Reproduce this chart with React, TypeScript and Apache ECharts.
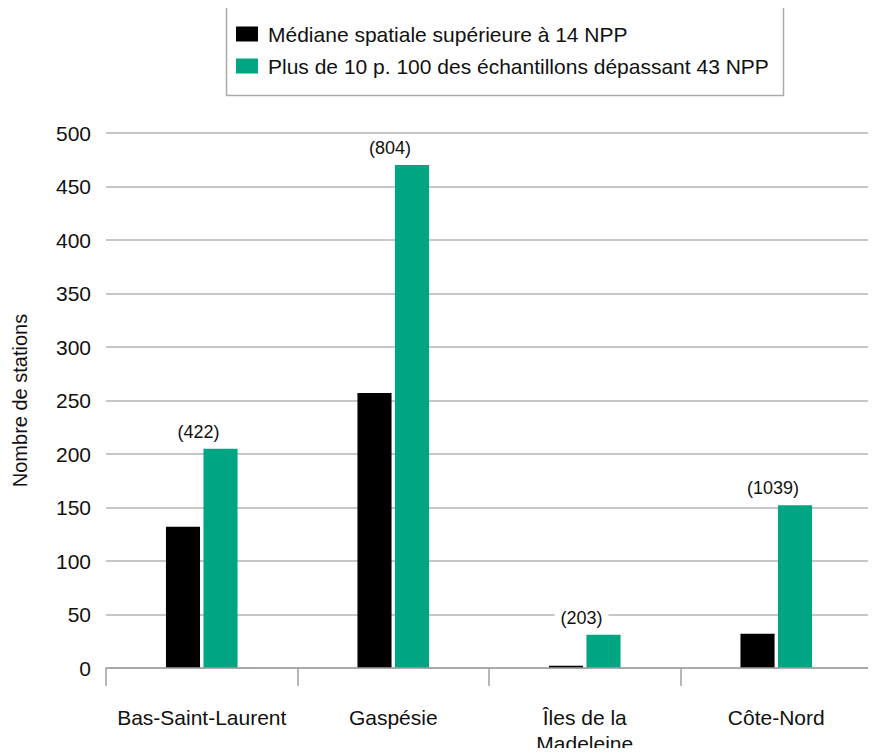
import React, { useEffect, useRef } from "react";
import * as echarts from "echarts";

const categories = ["Bas-Saint-Laurent", "Gaspésie", "Îles de la\nMadeleine", "Côte-Nord"];
const seriesNames = [
  "Médiane spatiale supérieure à 14 NPP",
  "Plus de 10 p. 100 des échantillons dépassant 43 NPP",
];
const medianeValues = [132, 257, 2, 32];
const plusValues = [205, 470, 31, 152];
const totalStations = [422, 804, 203, 1039];
const yTicks = { min: 0, max: 500, interval: 50 };

const FONT = "'Liberation Sans', Arial, sans-serif";

export default function App() {
  const ref = useRef<HTMLDivElement>(null);
  useEffect(() => {
    if (!ref.current) return;
    const chart = echarts.init(ref.current, null, { renderer: "svg" });
    chart.setOption({
      animation: false,
      textStyle: { fontFamily: FONT },
      graphic: [
        {
          type: "rect",
          shape: { x: 226.5, y: 6.5, width: 557, height: 89 },
          style: { fill: "#fff", stroke: "#aaaaaa", lineWidth: 1.5 },
          z: 0,
        },
      ],
      legend: {
        orient: "vertical",
        left: 236,
        top: 22,
        padding: 0,
        itemWidth: 22,
        itemHeight: 15,
        itemGap: 8,
        icon: "rect",
        textStyle: {
          fontFamily: FONT,
          fontSize: 21,
          color: "#111",
          lineHeight: 24,
          padding: [0, 0, 0, 5],
        },
        data: seriesNames,
      },
      grid: { left: 106, right: 4, top: 133, bottom: 82 },
      xAxis: {
        type: "category",
        data: categories,
        z: 5,
        axisLine: { show: true, lineStyle: { color: "#a0a0a0", width: 1.5 } },
        axisTick: { show: true, length: 18, interval: 0, lineStyle: { color: "#a0a0a0", width: 1.5 } },
        axisLabel: {
          fontFamily: FONT,
          fontSize: 21,
          color: "#111",
          margin: 36,
          lineHeight: 26,
          interval: 0,
        },
      },
      yAxis: {
        type: "value",
        min: yTicks.min,
        max: yTicks.max,
        interval: yTicks.interval,
        name: "Nombre de stations",
        nameLocation: "middle",
        nameGap: 76,
        nameTextStyle: { fontFamily: FONT, fontSize: 20, color: "#111" },
        axisLine: { show: false },
        axisTick: { show: false },
        splitLine: { lineStyle: { color: "#b4b4b4", width: 1.5 } },
        axisLabel: { fontFamily: FONT, fontSize: 21, color: "#111", margin: 15 },
      },
      series: [
        {
          name: seriesNames[0],
          type: "bar",
          data: medianeValues,
          barWidth: "17.8%",
          barGap: "10%",
          itemStyle: { color: "#000000" },
        },
        {
          name: seriesNames[1],
          type: "bar",
          data: plusValues,
          barWidth: "17.8%",
          barGap: "10%",
          itemStyle: { color: "#00a583" },
          label: {
            show: true,
            position: "top",
            distance: 8,
            offset: [-22, 0],
            fontFamily: FONT,
            fontSize: 18,
            color: "#111",
            backgroundColor: "#ffffff",
            padding: [0, 6],
            formatter: (p: any) => `(${totalStations[p.dataIndex]})`,
          },
        },
      ],
    });
    return () => chart.dispose();
  }, []);
  return <div ref={ref} style={{ width: 876, height: 756, margin: -8 }} />;
}
